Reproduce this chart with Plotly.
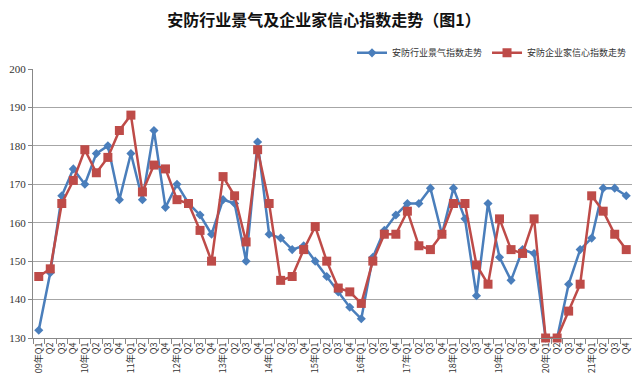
import plotly.graph_objects as go

years = ["09", "10", "11", "12", "13", "14", "15", "16", "17", "18", "19", "20", "21"]
quarters = ["Q1", "Q2", "Q3", "Q4"]
categories = [f"{y}年{q}" for y in years for q in quarters]
tick_labels = [f"{y}年Q1" if q == "Q1" else q for y in years for q in quarters]

prosperity = [132, 147, 167, 174, 170, 178, 180, 166, 178, 166, 184, 164,
              170, 165, 162, 157, 166, 165, 150, 181, 157, 156, 153, 154,
              150, 146, 142, 138, 135, 151, 158, 162, 165, 165, 169, 157,
              169, 161, 141, 165, 151, 145, 153, 152, 130, 130, 144, 153,
              156, 169, 169, 167]
confidence = [146, 148, 165, 171, 179, 173, 177, 184, 188, 168, 175, 174,
              166, 165, 158, 150, 172, 167, 155, 179, 165, 145, 146, 153,
              159, 150, 143, 142, 139, 150, 157, 157, 163, 154, 153, 157,
              165, 165, 149, 144, 161, 153, 152, 161, 130, 130, 137, 144,
              167, 163, 157, 153]

blue = "#4A7EBB"
red = "#BE4B48"
cjk = "Noto Sans CJK SC"

fig = go.Figure()
fig.add_trace(go.Scatter(x=categories, y=prosperity, name="安防行业景气指数走势",
                         mode="lines+markers", line=dict(color=blue, width=2.5),
                         marker=dict(symbol="diamond", size=7, color=blue), cliponaxis=False))
fig.add_trace(go.Scatter(x=categories, y=confidence, name="安防企业家信心指数走势",
                         mode="lines+markers", line=dict(color=red, width=2.5),
                         marker=dict(symbol="square", size=9, color=red), cliponaxis=False))

fig.update_layout(
    width=632, height=375,
    margin=dict(l=25, r=8, t=61, b=45),
    paper_bgcolor="white", plot_bgcolor="white",
    title=dict(text="<b>安防行业景气及企业家信心指数走势（图1）</b>", x=0.5, xanchor="center",
               y=0.966, yanchor="middle", font=dict(family=cjk, size=16, color="#111")),
    legend=dict(orientation="h", x=1.0, xanchor="right", y=1.06, yanchor="middle",
                font=dict(family=cjk, size=9, color="#333"), bgcolor="rgba(0,0,0,0)",
                itemwidth=30, tracegroupgap=0),
    showlegend=True,
)
fig.update_xaxes(type="category", categoryorder="array", categoryarray=categories,
                 tickmode="array", tickvals=categories, ticktext=tick_labels,
                 tickangle=-90, tickfont=dict(family=cjk, size=9, color="#333"),
                 range=[-0.5, 51.5], showgrid=False, showline=True, linecolor="#888",
                 ticks="outside", ticklen=5, tickcolor="#888", tickson="boundaries",
                 automargin=False)
fig.update_yaxes(range=[130, 200], dtick=10, showgrid=True, gridcolor="#A6A6A6", gridwidth=1,
                 showline=True, linecolor="#888", ticks="outside", ticklen=4, tickcolor="#888",
                 tickfont=dict(family="Liberation Serif", size=11, color="#333"), zeroline=False,
                 automargin=False)

fig.write_html("out.html")
